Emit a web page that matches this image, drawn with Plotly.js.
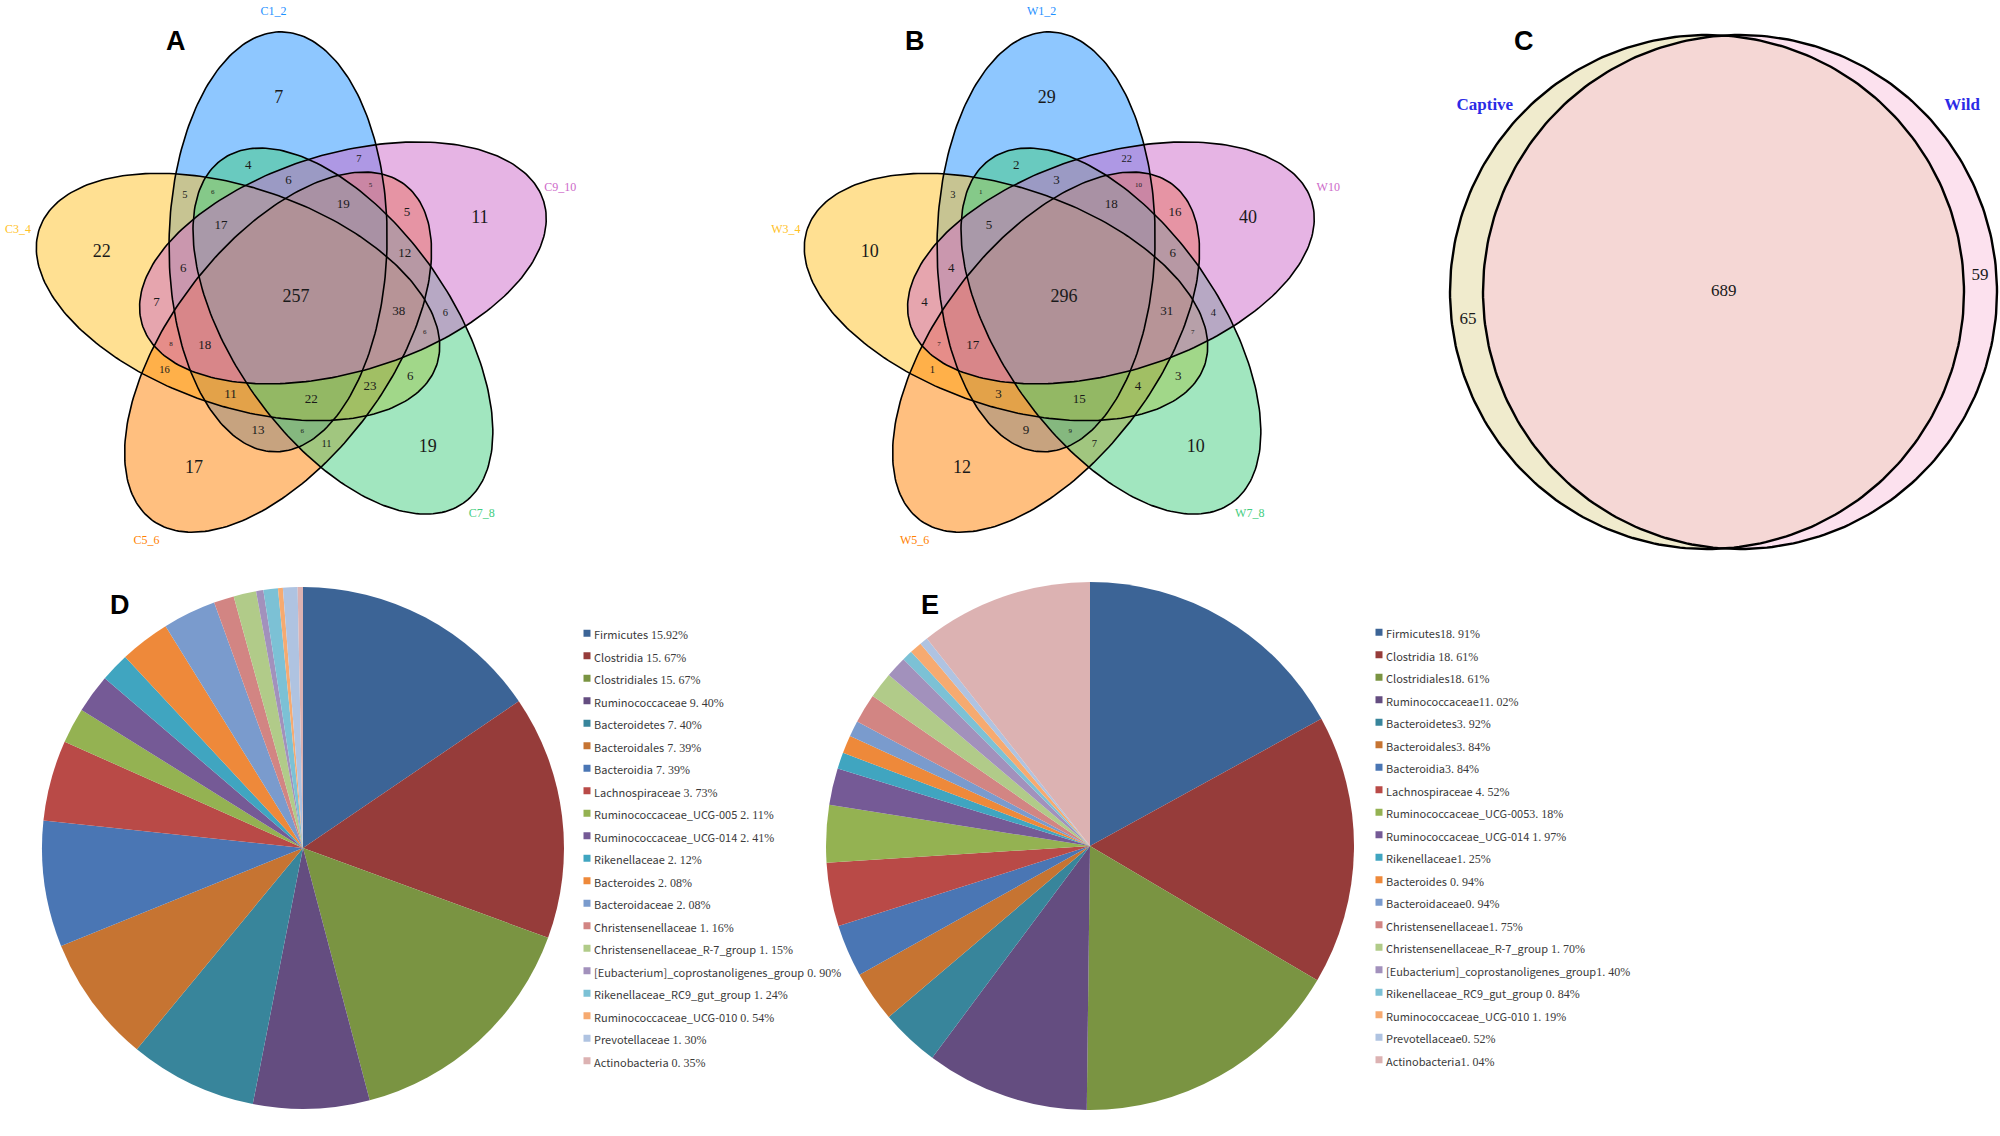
<!DOCTYPE html>
<html><head><meta charset="utf-8">
<script src="https://cdn.plot.ly/plotly-3.0.1.min.js"></script>
<style>html,body{margin:0;padding:0;background:#fff}#chart{width:2000px;height:1136px}</style>
</head><body><div id="chart"></div>
<script>
// ================= DATA =================
// five-set Venn: sets listed clockwise from the top ellipse
const vennA_sets = ["C1_2", "C9_10", "C7_8", "C5_6", "C3_4"];
const vennB_sets = ["W1_2", "W10", "W7_8", "W5_6", "W3_4"];
// region = which sets (1..5 in the order above) the area belongs to
const venn5_regions = ["1","2","3","4","5",
  "12","23","34","45","15",
  "13","24","35","14","25",
  "123","234","345","145","125",
  "124","235","134","245","135",
  "1234","2345","1345","1245","1235",
  "12345"];
const vennA_counts = [7,11,19,17,22, 7,6,11,16,5, 4,5,6,13,7, 6,12,23,11,6, 5,6,6,8,6, 19,38,22,18,17, 257];
const vennB_counts = [29,40,10,12,10, 22,4,7,1,3, 2,16,3,9,4, 3,6,4,3,4, 10,7,9,7,1, 18,31,15,17,5, 296];

const vennC_sets = ["Captive", "Wild"];
const vennC_regions = ["1", "12", "2"];
const vennC_counts = [65, 689, 59];

const taxa = ["Firmicutes","Clostridia","Clostridiales","Ruminococcaceae","Bacteroidetes",
  "Bacteroidales","Bacteroidia","Lachnospiraceae","Ruminococcaceae_UCG-005","Ruminococcaceae_UCG-014",
  "Rikenellaceae","Bacteroides","Bacteroidaceae","Christensenellaceae","Christensenellaceae_R-7_group",
  "[Eubacterium]_coprostanoligenes_group","Rikenellaceae_RC9_gut_group","Ruminococcaceae_UCG-010","Prevotellaceae","Actinobacteria"];
// slice sizes as drawn (share of the pie, %)
const pieD_values = [15.5,15.1,15.3,7.2,7.9,7.9,7.8,5.0,2.2,2.4,1.8,3.1,3.3,1.25,1.4,0.45,0.9,0.3,0.9,0.33];
const pieE_values = [17.0,16.5,16.7,10.0,3.6,3.1,3.2,3.9,3.5,2.25,1.0,1.1,0.97,1.8,1.6,1.3,0.64,0.75,0.5,10.6];
// legend percentages as printed (leading space where the original has one)
const pieD_pct = [" 15.92%"," 15. 67%"," 15. 67%"," 9. 40%"," 7. 40%"," 7. 39%"," 7. 39%"," 3. 73%"," 2. 11%"," 2. 41%",
  " 2. 12%"," 2. 08%"," 2. 08%"," 1. 16%"," 1. 15%"," 0. 90%"," 1. 24%"," 0. 54%"," 1. 30%"," 0. 35%"];
const pieE_pct = ["18. 91%"," 18. 61%","18. 61%","11. 02%","3. 92%","3. 84%","3. 84%"," 4. 52%","3. 18%"," 1. 97%",
  "1. 25%"," 0. 94%","0. 94%","1. 75%"," 1. 70%","1. 40%"," 0. 84%"," 1. 19%","0. 52%","1. 04%"];
const panelLetters = ["A","B","C","D","E"];

// ================= STYLE / GEOMETRY =================
const pieColors = ["#3C6496","#963C3A","#7A9442","#644D80","#38859B","#C67432","#4A76B4","#B94A47","#94B252","#755A96",
  "#40A5C0","#EE893A","#7A9BCD","#D28583","#B1CB89","#A291BC","#7CC1D5","#F6AA70","#AFC3E1","#DCB2B2"];
const venn5Colors = ["#1E90FF","#CD69C9","#43CD80","#FF7F00","#FFC125"];
const venn5DrawOrder = [0,4,3,2,1];
const venn2Colors = ["#E1D79B","#F9C3DD"];
const G = {a:210, b:109, d:58, tilt:1, off:-18, labR:286, labOff:-4.5};
const OA = [296,297], OB = [1064,297];
const circC = [{cx:1707, cy:292, r:257}, {cx:1740, cy:292, r:257}];
const letterPos = [[176,41],[915,41],[1524,41],[120,605],[930,605]];
const W = 2000, H = 1136;
const D2R = Math.PI/180;

function makeEllipse(cx,cy,ang,a,b){ return {cx, cy, ux:Math.sin(ang*D2R), uy:-Math.cos(ang*D2R), a, b}; }
function inside(e,x,y){ const dx=x-e.cx, dy=y-e.cy; const s=dx*e.ux+dy*e.uy, t=-dx*e.uy+dy*e.ux; return (s*s)/(e.a*e.a)+(t*t)/(e.b*e.b) <= 1; }
function outline(e,n){ const xs=[], ys=[]; for(let i=0;i<=n;i++){ const t=2*Math.PI*i/n, c=Math.cos(t)*e.a, s=Math.sin(t)*e.b; xs.push(e.cx + c*e.ux - s*e.uy); ys.push(e.cy + c*e.uy + s*e.ux); } return {xs, ys}; }
function quint(O){ return [0,1,2,3,4].map(k => { const ps=(72*k+G.off)*D2R; return makeEllipse(O[0]+G.d*Math.sin(ps), O[1]-G.d*Math.cos(ps), 72*k+G.tilt, G.a, G.b); }); }
function codeAt(ells,x,y){ let code=''; ells.forEach((e,i) => { if(inside(e,x,y)) code += (i+1); }); return code; }
// label point of each region: its centroid, blended with the centre of its largest inscribed circle
function regionCenters(ells, box, step){
  const bnd = [];
  ells.forEach(e => { const o = outline(e, 400); for(let i=0;i<o.xs.length;i++) bnd.push([o.xs[i], o.ys[i]]); });
  const best = {}, sum = {};
  for(let y=box[1]; y<=box[3]; y+=step) for(let x=box[0]; x<=box[2]; x+=step){
    const code = codeAt(ells,x,y);
    if(!code) continue;
    if(!sum[code]) sum[code] = {sx:0, sy:0, n:0};
    sum[code].sx += x; sum[code].sy += y; sum[code].n++;
    const cur = best[code] ? best[code].d2 : -1;
    let m = Infinity;
    for(const p of bnd){ const dx=p[0]-x, dy=p[1]-y, d2=dx*dx+dy*dy; if(d2<m){ m=d2; if(m<=cur) break; } }
    if(m>cur) best[code] = {x, y, d2:m};
  }
  const out = {};
  Object.keys(best).forEach(code => {
    const cx = sum[code].sx/sum[code].n, cy = sum[code].sy/sum[code].n;
    const mx = 0.5*cx + 0.5*best[code].x, my = 0.5*cy + 0.5*best[code].y;
    out[code] = (codeAt(ells,mx,my)===code) ? {x:mx, y:my} : {x:best[code].x, y:best[code].y};
  });
  return out;
}
function adjacent(i,j){ const d=((j-i)%5+5)%5; return d===1 || d===4; }
function regionFont(code){
  const n = code.length;
  if(n===1 || n===5) return 18;
  if(n===4) return 13;
  const idx = code.split('').map(Number);
  if(n===2) return adjacent(idx[0], idx[1]) ? 10.5 : 13;
  const comp = [1,2,3,4,5].filter(v => !idx.includes(v));
  return adjacent(comp[0], comp[1]) ? 13 : 7;
}
function rgba(hex,a){ const v=parseInt(hex.slice(1),16); return `rgba(${v>>16},${(v>>8)&255},${v&255},${a})`; }

const traces = [];
function addVenn5(O, sets, counts){
  const ells = quint(O);
  venn5DrawOrder.forEach(k => {
    const o = outline(ells[k], 240);
    traces.push({type:'scatter', mode:'none', x:o.xs, y:o.ys, fill:'toself', fillcolor:rgba(venn5Colors[k],0.5),
      hoverinfo:'skip', showlegend:false});
  });
  venn5DrawOrder.forEach(k => {
    const o = outline(ells[k], 240);
    traces.push({type:'scatter', mode:'lines', x:o.xs, y:o.ys, line:{color:'#000', width:1.6}, hoverinfo:'skip', showlegend:false});
  });
  const c = regionCenters(ells, [O[0]-280, O[1]-280, O[0]+280, O[1]+280], 2);
  traces.push({type:'scatter', mode:'text', x:venn5_regions.map(r=>c[r].x), y:venn5_regions.map(r=>c[r].y),
    text:counts.map(String), textfont:{family:'Liberation Serif', size:venn5_regions.map(regionFont), color:'#1a1a1a'},
    textposition:'middle center', hoverinfo:'skip', showlegend:false, cliponaxis:false});
  traces.push({type:'scatter', mode:'text',
    x:sets.map((s,k)=>O[0]+G.labR*Math.sin((72*k+G.labOff)*D2R)), y:sets.map((s,k)=>O[1]-G.labR*Math.cos((72*k+G.labOff)*D2R)),
    text:sets, textfont:{family:'Liberation Serif', size:12, color:venn5Colors}, textposition:'middle center',
    hoverinfo:'skip', showlegend:false, cliponaxis:false});
}
addVenn5(OA, vennA_sets, vennA_counts);
addVenn5(OB, vennB_sets, vennB_counts);

// two-set Venn
const ellsC = circC.map(c => makeEllipse(c.cx, c.cy, 0, c.r, c.r));
ellsC.forEach((e,k) => { const o = outline(e, 300);
  traces.push({type:'scatter', mode:'none', x:o.xs, y:o.ys, fill:'toself', fillcolor:rgba(venn2Colors[k],0.5),
    hoverinfo:'skip', showlegend:false}); });
ellsC.forEach((e,k) => { const o = outline(e, 300);
  traces.push({type:'scatter', mode:'lines', x:o.xs, y:o.ys, line:{color:'#000', width:2.4}, hoverinfo:'skip', showlegend:false}); });
const cC = regionCenters(ellsC, [1440, 30, 2000, 560], 2);
traces.push({type:'scatter', mode:'text', x:vennC_regions.map(r=>cC[r].x), y:vennC_regions.map(r=>cC[r].y),
  text:vennC_counts.map(String), textfont:{family:'Liberation Serif', size:17, color:'#1a1a1a'},
  hoverinfo:'skip', showlegend:false, cliponaxis:false});
traces.push({type:'scatter', mode:'text',
  x:circC.map((c,k)=>c.cx + (c.r+33)*Math.sin((k===0?-50:50)*D2R)), y:circC.map(c=>c.cy - (c.r+33)*Math.cos(50*D2R)),
  text:vennC_sets.map(s=>'<b>'+s+'</b>'), textfont:{family:'Liberation Serif', size:17, color:'#2B2BE6'}, hoverinfo:'skip', showlegend:false, cliponaxis:false});

// pies
function legendLabel(name, pct){
  return `<span style="font-size:11px">${name}</span><span style="font-family:Liberation Serif;font-size:12px">${pct}</span>`;
}
function pieDomain(cx, cy, r){ return {x:[(cx-r)/W, (cx+r)/W], y:[(H-cy-r)/H, (H-cy+r)/H]}; }
traces.push({type:'pie', labels:taxa.map((t,i)=>legendLabel(t, pieD_pct[i])), values:pieD_values, sort:false,
  direction:'clockwise', rotation:0, textinfo:'none', hoverinfo:'skip', marker:{colors:pieColors, line:{width:0}},
  domain:pieDomain(303, 848, 261), legend:'legend'});
traces.push({type:'pie', labels:taxa.map((t,i)=>legendLabel(t, pieE_pct[i])), values:pieE_values, sort:false,
  direction:'clockwise', rotation:0, textinfo:'none', hoverinfo:'skip', marker:{colors:pieColors, line:{width:0}},
  domain:pieDomain(1090, 846, 264), legend:'legend2'});

const legendBase = {xanchor:'left', yanchor:'top', bgcolor:'rgba(0,0,0,0)', borderwidth:0, traceorder:'normal',
  font:{family:'Noto Sans CJK SC', size:15, color:'#3a3a3a'}, itemclick:false, itemdoubleclick:false};
const layout = {
  width:W, height:H, margin:{l:0, r:0, t:0, b:0}, paper_bgcolor:'#ffffff', plot_bgcolor:'rgba(0,0,0,0)',
  showlegend:true,
  xaxis:{range:[0,W], domain:[0,1], visible:false, fixedrange:true},
  yaxis:{range:[H,0], domain:[0,1], visible:false, fixedrange:true},
  legend:Object.assign({x:554/W, y:1-617/H}, legendBase),
  legend2:Object.assign({x:1346/W, y:1-616/H}, legendBase),
  annotations:panelLetters.map((t,i)=>({text:'<b>'+t+'</b>', x:letterPos[i][0], y:letterPos[i][1], xref:'x', yref:'y',
    showarrow:false, font:{family:'Liberation Sans', size:27, color:'#000'}, xanchor:'center', yanchor:'middle'}))
};
Plotly.newPlot('chart', traces, layout, {displayModeBar:false, staticPlot:true}).then(() => {
  document.querySelectorAll('path.legendpie').forEach(p => {
    p.setAttribute('d', 'M3.5,3.5H-3.5V-3.5H3.5Z');
    p.setAttribute('transform', 'translate(33,0)');
  });
});
</script></body></html>
